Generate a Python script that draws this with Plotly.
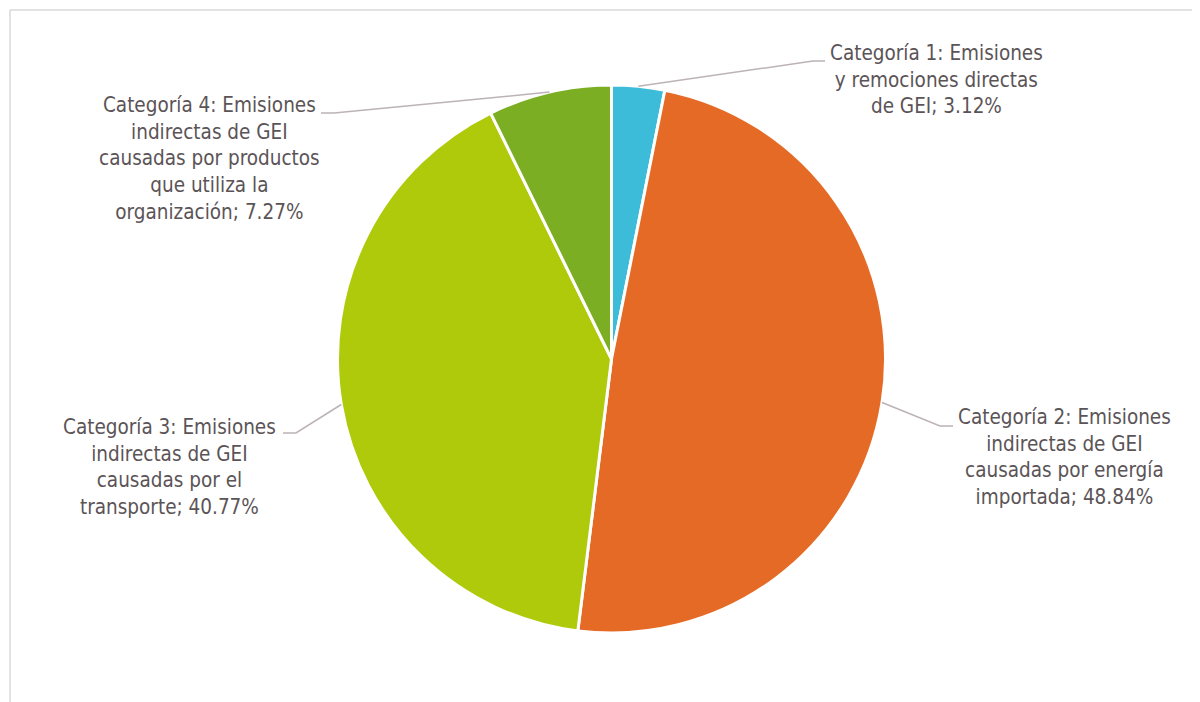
import math
import plotly.graph_objects as go

# ---- data ----
categories = [
    "Categoría 1: Emisiones<br>y remociones directas<br>de GEI",
    "Categoría 2: Emisiones<br>indirectas de GEI<br>causadas por energía<br>importada",
    "Categoría 3: Emisiones<br>indirectas de GEI<br>causadas por el<br>transporte",
    "Categoría 4: Emisiones<br>indirectas de GEI<br>causadas por productos<br>que utiliza la<br>organización",
]
values = [3.12, 48.84, 40.77, 7.27]
colors = ["#3dbcd9", "#e56a25", "#afca0b", "#7bae22"]

# ---- layout geometry (target pixels in the page) ----
W, H = 1200, 702
OFF = 8  # page body margin
cx, cy, R = 611.5, 359, 274
label_pos = [(936, 79), (1064, 457), (169, 467), (209, 158)]
elbows = [((813, 61), (825, 61)), ((940, 426), (953, 426)),
          ((296, 433), (283, 433)), ((334, 113), (321, 113))]

FONT = "DejaVu Sans Condensed, DejaVu Sans, sans-serif"
TXT = "#5b5457"
LINE = "#bcb2b7"

def px(x):
    return (x - OFF) / W

def py(y):
    return 1 - (y - OFF) / H

fig = go.Figure(go.Pie(
    labels=categories,
    values=values,
    sort=False,
    direction="clockwise",
    rotation=0,
    marker=dict(colors=colors, line=dict(color="white", width=3)),
    textinfo="none",
    hoverinfo="label+percent",
    showlegend=False,
    domain=dict(x=[px(cx - R), px(cx + R)], y=[py(cy + R), py(cy - R)]),
))

total = sum(values)
shapes = []
annotations = []
cum = 0.0
for i, v in enumerate(values):
    mid = (cum + v / 2) / total * 2 * math.pi
    cum += v
    sx = cx + R * math.sin(mid)
    sy = cy - R * math.cos(mid)
    (ex, ey), (fx, fy) = elbows[i]
    path = f"M {px(sx)} {py(sy)} L {px(ex)} {py(ey)} L {px(fx)} {py(fy)}"
    shapes.append(dict(type="path", xref="paper", yref="paper", path=path,
                       line=dict(color=LINE, width=1.5)))
    lx, ly = label_pos[i]
    annotations.append(dict(
        x=px(lx), y=py(ly), xref="paper", yref="paper",
        xanchor="center", yanchor="middle", align="center", showarrow=False,
        text=f"{categories[i]}; {v:.2f}%",
        font=dict(family=FONT, size=20.5, color=TXT),
    ))

# chart border (top and left edges visible)
shapes.append(dict(type="line", xref="paper", yref="paper",
                   x0=px(10), y0=py(10), x1=1.02, y1=py(10),
                   line=dict(color="#d9d9d9", width=1.5)))
shapes.append(dict(type="line", xref="paper", yref="paper",
                   x0=px(10), y0=py(10), x1=px(10), y1=-0.02,
                   line=dict(color="#d9d9d9", width=1.5)))

fig.update_layout(
    width=W, height=H,
    margin=dict(l=0, r=0, t=0, b=0),
    paper_bgcolor="white", plot_bgcolor="white",
    shapes=shapes, annotations=annotations,
)

fig.write_html("out.html")
